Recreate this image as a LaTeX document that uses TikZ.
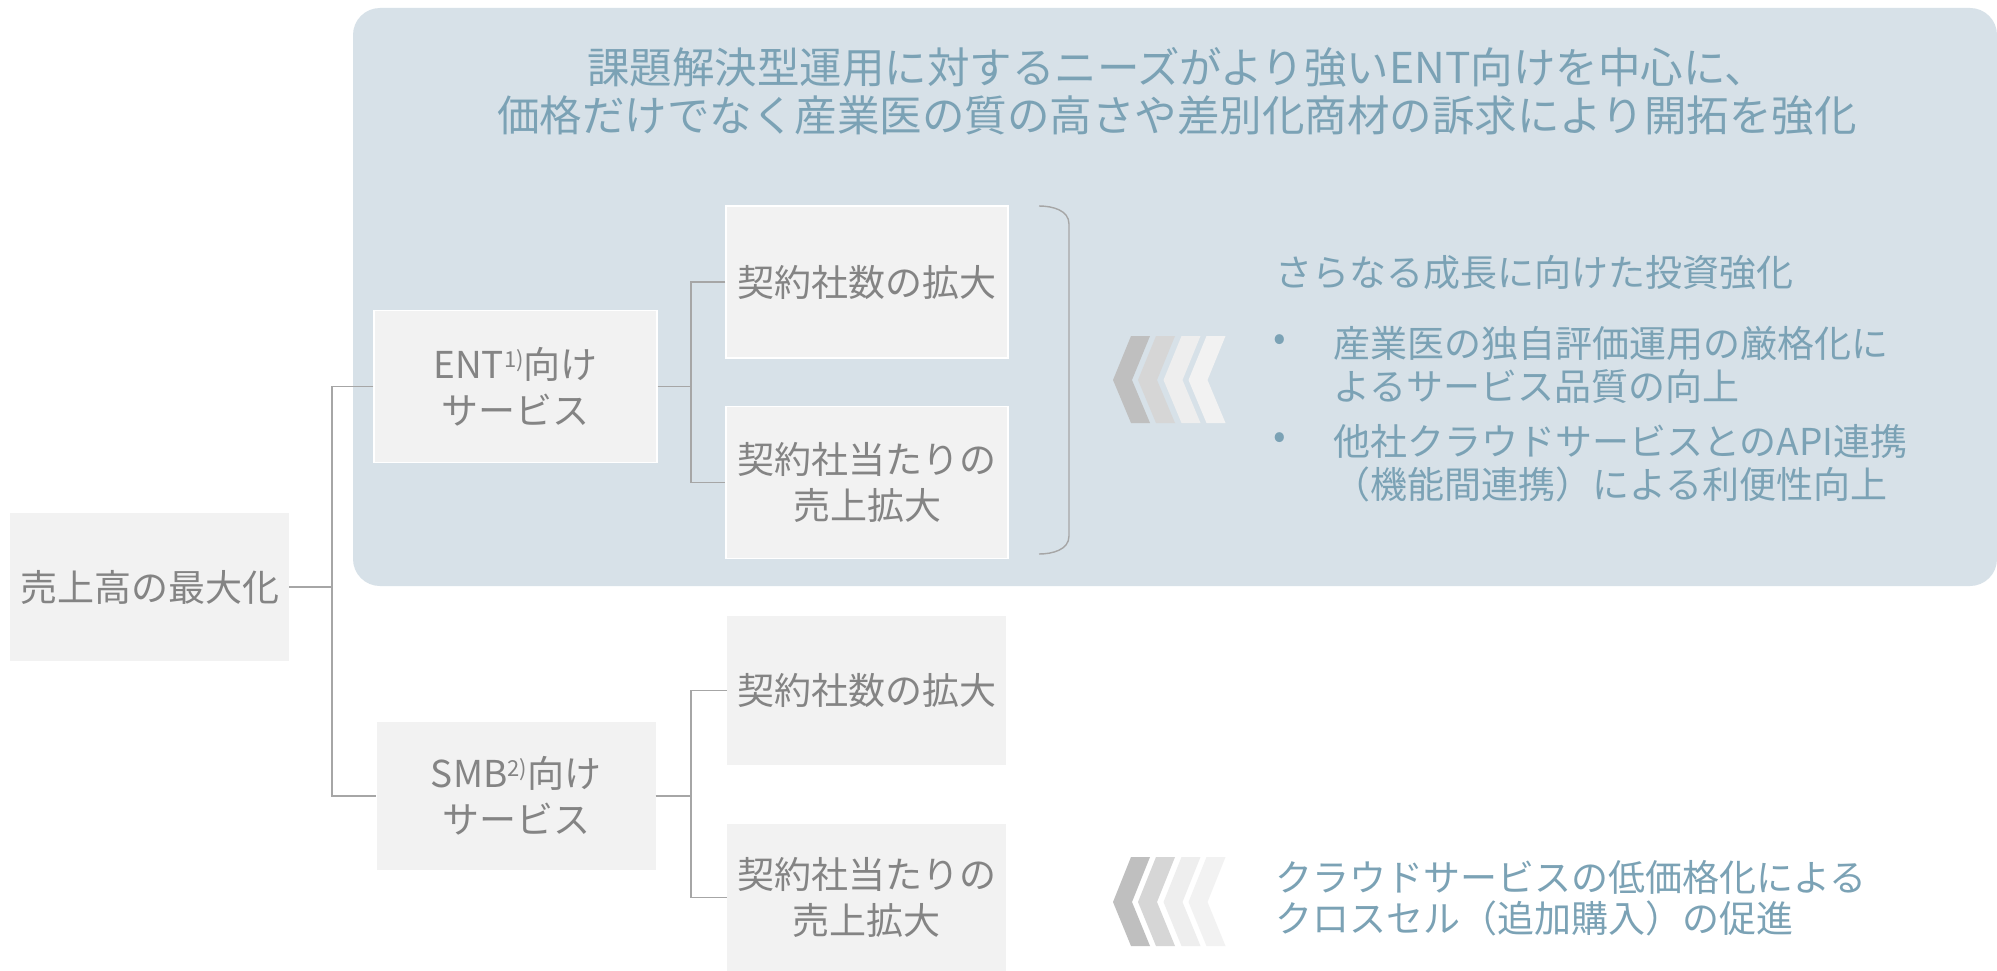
\documentclass[tikz,border=0pt]{standalone}
\usepackage{fontspec}
\setmainfont{Noto Sans CJK JP}
\definecolor{bluebg}{HTML}{D7E1E8}
\definecolor{bluetxt}{HTML}{7BA2B5}
\definecolor{boxfill}{HTML}{F2F2F2}
\definecolor{boxtxt}{HTML}{848484}
\definecolor{lineg}{HTML}{A6A6A6}
\definecolor{chA}{HTML}{BFBFBF}
\definecolor{chB}{HTML}{D6D6D6}
\definecolor{chC}{HTML}{EEEEEE}
\definecolor{chD}{HTML}{F2F2F2}
\newcommand\mychevron[5]{\fill[#5] (#1,#2) -- (#1+19,#2) -- (#1+1,#3) -- (#1+19,#4) -- (#1,#4) -- (#1-18,#3) -- cycle;}
\newcommand\mysupnote[1]{{\fontsize{22}{22}\selectfont\raisebox{11pt}{#1}}}
\begin{document}
\begin{tikzpicture}[x=1pt,y=-1pt,
  box/.style={fill=boxfill, text=boxtxt, inner sep=0pt, align=center,
    font=\fontsize{37}{46}\selectfont},
  inbox/.style={box, draw=white, line width=1.2pt},
  conn/.style={draw=lineg, line width=1.4pt},
  rtxt/.style={text=bluetxt, inner sep=0pt, font=\fontsize{37}{44}\selectfont, anchor=base west},
  ttl/.style={text=bluetxt, inner sep=0pt, font=\fontsize{42.5}{48}\selectfont, align=center}]
\useasboundingbox (0,0) rectangle (1997,971);
\fill[white] (0,0) rectangle (1997,971);
% blue panel
\fill[bluebg, rounded corners=27pt] (353,8) rectangle (1997,586);
% title
\node[ttl] (title) at (1177,91) {課題解決型運用に対するニーズがより強いENT向けを中心に、\\価格だけでなく産業医の質の高さや差別化商材の訴求により開拓を強化};
% boxes
\node[box, minimum width=279pt, minimum height=148pt] (root) at (149.5,587) {売上高の最大化};
\node[inbox, minimum width=283pt, minimum height=152pt] (ent) at (515.5,386.5) {ENT\mysupnote{1)}向け\\サービス};
\node[inbox, minimum width=282pt, minimum height=152pt] (e1) at (867,282) {契約社数の拡大};
\node[inbox, minimum width=282pt, minimum height=152pt] (e2) at (867,482.5) {契約社当たりの\\売上拡大};
\node[box, minimum width=279pt, minimum height=148pt] (smb) at (516,796) {SMB\mysupnote{2)}向け\\サービス};
\node[box, minimum width=279pt, minimum height=149pt] (s1) at (866.5,690.5) {契約社数の拡大};
\node[box, minimum width=279pt, minimum height=147pt] (s2) at (866.5,897.5) {契約社当たりの\\売上拡大};
% connectors
\coordinate (jr) at (332,587);
\coordinate (je) at (691,386.5);
\coordinate (js) at (691,796);
\draw[conn] (root.east) -- (jr);
\draw[conn] (ent.west) -- (ent.west -| jr) |- (smb.west);
\draw[conn] (ent.east) -- (je);
\draw[conn] (e1.west) -- (e1.west -| je) |- (e2.west);
\draw[conn] (smb.east) -- (js);
\draw[conn] (s1.west) -- (s1.west -| js) |- (s2.west);
% bracket
\draw[conn] (1039,206) to[out=0,in=90] (1069,224) -- (1069,536) to[out=-90,in=0] (1039,554);
% chevrons
\mychevron{1131}{336}{380}{423}{chA}
\mychevron{1156}{336}{380}{423}{chB}
\mychevron{1181.5}{336}{380}{423}{chC}
\mychevron{1206.5}{336}{380}{423}{chD}
\mychevron{1131}{857}{902}{946}{chA}
\mychevron{1156}{857}{902}{946}{chB}
\mychevron{1181.5}{857}{902}{946}{chC}
\mychevron{1206.5}{857}{902}{946}{chD}
% right texts
\node[rtxt] (head) at (1275,286) {さらなる成長に向けた投資強化};
\node[text=bluetxt, inner sep=0pt, font=\fontsize{37}{44}\selectfont] (bul1) at (1280,343) {•};
\node[rtxt] (b1a) at (1333,357) {産業医の独自評価運用の厳格化に};
\node[rtxt] (b1b) at (1333,400) {よるサービス品質の向上};
\node[text=bluetxt, inner sep=0pt, font=\fontsize{37}{44}\selectfont] (bul2) at (1280,441) {•};
\node[rtxt] (b2a) at (1333,455) {他社クラウドサービスとのAPI連携};
\node[rtxt] (b2b) at (1333,498) {（機能間連携）による利便性向上};
\node[rtxt] (c1) at (1275,891) {クラウドサービスの低価格化による};
\node[rtxt] (c2) at (1275,932) {クロスセル（追加購入）の促進};
\end{tikzpicture}
\end{document}
